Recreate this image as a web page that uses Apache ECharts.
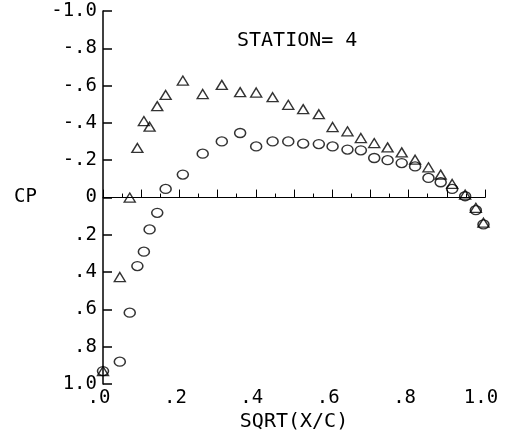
<!DOCTYPE html>
<html>
<head>
<meta charset="utf-8">
<script src="https://cdn.jsdelivr.net/npm/echarts@6/dist/echarts.min.js"></script>
<style>
html, body { margin: 0; padding: 0; background: #fff; }
#chart { width: 518px; height: 437px; }
</style>
</head>
<body>
<div id="chart"></div>
<script>
// chordwise stations, SQRT(X/C)
var stationX = [0, 0.044, 0.07, 0.09, 0.107, 0.122, 0.142, 0.164, 0.209, 0.261,
	0.311, 0.359, 0.401, 0.444, 0.485, 0.524, 0.565, 0.601, 0.640, 0.675,
	0.710, 0.745, 0.782, 0.817, 0.852, 0.884, 0.914, 0.948, 0.976, 0.996];
// triangles
var upperCp = [0.93, 0.426, 0.0, -0.266, -0.41, -0.38, -0.49, -0.55, -0.627, -0.555,
	-0.604, -0.565, -0.563, -0.538, -0.497, -0.474, -0.447, -0.378, -0.355, -0.319,
	-0.292, -0.269, -0.242, -0.203, -0.162, -0.123, -0.073, -0.016, 0.055, 0.135];
// circles
var lowerCp = [0.93, 0.88, 0.617, 0.367, 0.29, 0.171, 0.082, -0.046, -0.123, -0.235,
	-0.301, -0.346, -0.274, -0.301, -0.301, -0.289, -0.287, -0.274, -0.257, -0.253,
	-0.212, -0.2, -0.185, -0.167, -0.105, -0.082, -0.046, -0.007, 0.068, 0.144];
var xTickLabels = ['.0', '.2', '.4', '.6', '.8', '1.0'];
var yTickLabels = ['-1.0', '-.8', '-.6', '-.4', '-.2', '0', '.2', '.4', '.6', '.8', '1.0'];

var font = 'DejaVu Sans Mono';
var ink = '#000';

function pairs(ys) {
	return stationX.map(function (x, i) { return [x, ys[i]]; });
}

var chart = echarts.init(document.getElementById('chart'));
var option = {
	backgroundColor: '#fff',
	animation: false,
	title: {
		text: 'STATION= 4',
		left: 237,
		top: 31,
		padding: 0,
		textStyle: { fontFamily: font, fontSize: 20, fontWeight: 'normal', color: ink }
	},
	grid: { left: 103, right: 33, top: 11, bottom: 52 },
	xAxis: [
		{
			type: 'value', min: 0, max: 1, interval: 0.2, position: 'bottom',
			axisLine: { show: false, onZero: false },
			axisTick: { show: false },
			splitLine: { show: false },
			axisLabel: {
				margin: 4, padding: [0, 8, 0, 0],
				fontFamily: font, fontSize: 19, color: ink,
				formatter: function (v) { return xTickLabels[Math.round(v / 0.2)]; }
			},
			name: 'SQRT(X/C)', nameLocation: 'middle', nameGap: 25,
			nameTextStyle: { fontFamily: font, fontSize: 20, color: ink }
		},
		{
			// the CP = 0 line with its station ticks
			type: 'value', min: 0, max: 1, interval: 0.1, position: 'top',
			axisLine: { show: true, onZero: true, lineStyle: { color: ink, width: 1 } },
			axisTick: { show: true, length: 8, lineStyle: { color: ink, width: 1 } },
			minorTick: { show: true, splitNumber: 2, length: 4, lineStyle: { color: ink, width: 1 } },
			axisLabel: { show: false },
			splitLine: { show: false }
		}
	],
	yAxis: {
		type: 'value', min: -1, max: 1, interval: 0.2, inverse: true,
		axisLine: { show: true, onZero: false, lineStyle: { color: ink, width: 1.5 } },
		axisTick: { show: true, inside: true, length: 9, lineStyle: { color: ink, width: 1.5 } },
		splitLine: { show: false },
		axisLabel: {
			margin: 6, fontFamily: font, fontSize: 19, color: ink,
			formatter: function (v) { return yTickLabels[Math.round((v + 1) / 0.2)]; }
		},
		name: 'CP', nameLocation: 'middle', nameRotate: 0, nameGap: 66,
		nameTextStyle: { fontFamily: font, fontSize: 19, color: ink }
	},
	series: [
		{
			name: 'upper', type: 'scatter', xAxisIndex: 0,
			symbol: 'triangle', symbolSize: [11, 9],
			itemStyle: { color: 'transparent', borderColor: ink, borderWidth: 1.4 },
			data: pairs(upperCp)
		},
		{
			name: 'lower', type: 'scatter', xAxisIndex: 0,
			symbol: 'circle', symbolSize: [11, 9],
			itemStyle: { color: 'transparent', borderColor: ink, borderWidth: 1.4 },
			data: pairs(lowerCp)
		}
	]
};
chart.setOption(option);
</script>
</body>
</html>
